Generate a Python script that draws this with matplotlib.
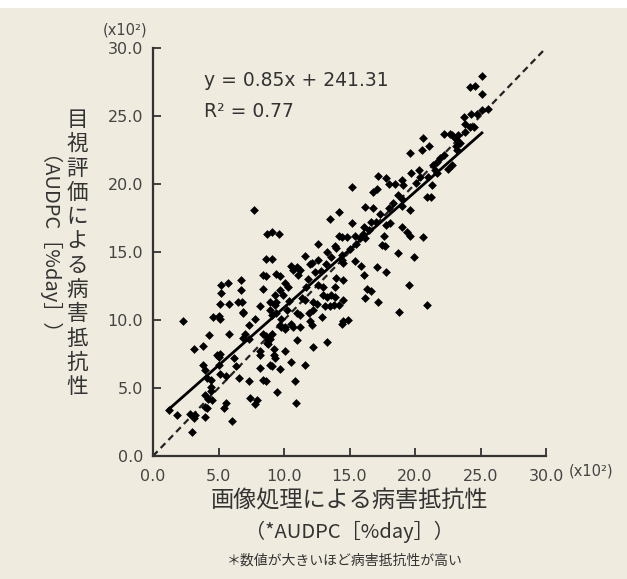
import matplotlib.pyplot as plt
import numpy as np

plt.rcParams['font.family'] = ['Noto Sans CJK JP', 'DejaVu Sans']

# image-processing resistance (x10^2) vs visual score (x10^2)
x_img = [1.2, 1.8, 2.3, 2.8, 3.1, 3.2, 3.0, 3.1, 3.8, 3.8, 4.0, 4.1, 4.3, 4.4, 4.4, 4.0,
         4.2, 4.5, 4.0, 4.1, 4.0, 4.4, 4.6, 5.0, 5.1, 5.1, 5.2, 5.2, 5.7, 5.8, 5.8, 4.9,
         5.0, 5.1, 5.0, 5.1, 5.6, 5.4, 5.6, 6.0, 6.3, 6.6, 6.5, 6.8, 6.7, 6.7, 6.9, 6.9,
         7.3, 6.9, 7.3, 7.3, 7.4, 7.8, 7.9, 7.8, 8.2, 8.9, 9.3, 8.2, 8.2, 8.2, 8.4, 8.6,
         8.9, 9.1, 9.3, 9.2, 9.2, 8.4, 8.6, 8.7, 8.8, 8.8, 8.9, 9.1, 9.5, 9.7, 10.1, 10.5,
         10.8, 10.9, 11.0, 10.1, 10.1, 9.7, 9.8, 10.5, 10.7, 11.2, 12.0, 12.1, 12.9, 12.2, 13.3, 14.4,
         11.6, 11.2, 11.9, 12.2, 9.4, 9.8, 10.2, 8.9, 9.1, 11.0, 13.1, 13.5, 13.8, 14.2, 14.5, 14.5,
         14.9, 8.4, 8.6, 8.4, 8.6, 9.1, 9.3, 9.4, 9.7, 9.9, 9.4, 9.7, 10.1, 10.3, 10.5, 11.0,
         11.2, 10.7, 11.1, 11.4, 11.6, 11.7, 12.2, 12.5, 12.6, 13.0, 12.4, 13.0, 13.3, 13.6, 13.9, 14.0,
         13.9, 11.6, 12.6, 13.9, 12.1, 12.6, 12.0, 13.6, 14.4, 14.5, 13.3, 14.0, 14.2, 14.4, 14.2, 13.5,
         7.7, 8.7, 9.1, 9.6, 15.2, 17.2, 17.8, 18.0, 18.5, 19.0, 19.1, 19.7, 20.3, 20.1, 16.8, 17.1,
         18.7, 19.0, 20.9, 21.2, 21.3, 16.2, 16.8, 19.6, 15.2, 16.1, 16.6, 14.8, 15.4, 15.8, 16.2, 17.6,
         17.5, 18.1, 19.0, 19.4, 19.6, 20.6, 18.7, 19.9, 14.4, 15.4, 15.9, 16.1, 17.1, 17.8, 14.5, 16.3,
         16.6, 16.2, 17.2, 19.5, 18.8, 20.9, 17.8, 17.7, 20.6, 21.1, 20.5, 19.6, 22.2, 22.7, 23.1, 21.9,
         21.7, 22.2, 22.5, 22.8, 21.4, 21.5, 21.7, 20.4, 21.0, 25.1, 24.2, 24.6, 25.1, 23.7, 24.3, 24.7,
         25.1, 25.6, 23.8, 24.2, 24.5, 22.8, 23.3, 23.1, 23.2, 23.4, 23.8, 15.0, 15.5, 16.0, 16.5, 17.0,
         17.3, 18.0, 18.3, 19.0, 11.8, 12.8, 13.2, 10.4, 6.2, 7.0]
y_vis = [3.4, 3.0, 9.9, 3.1, 2.8, 3.0, 1.8, 7.9, 8.1, 6.7, 6.3, 5.7, 8.9, 5.1, 4.8, 4.5,
         4.2, 4.1, 3.6, 3.5, 2.9, 5.6, 10.2, 10.3, 10.1, 11.2, 12.0, 12.6, 12.7, 11.2, 9.0, 7.4,
         7.3, 7.5, 6.7, 6.0, 5.9, 3.5, 3.9, 2.6, 6.6, 5.7, 11.3, 11.3, 12.9, 12.2, 10.6, 10.5,
         9.6, 8.7, 8.6, 5.5, 4.3, 3.8, 4.1, 10.1, 11.0, 11.3, 11.1, 7.7, 7.4, 6.5, 5.6, 5.5,
         6.7, 6.6, 7.2, 7.4, 7.9, 9.0, 8.8, 8.3, 8.5, 8.2, 8.6, 9.0, 4.7, 6.4, 7.7, 6.9,
         5.5, 3.9, 8.5, 9.3, 9.5, 9.6, 9.5, 9.7, 9.5, 9.5, 9.9, 9.6, 10.2, 8.0, 8.4, 9.7,
         6.7, 10.4, 10.5, 10.7, 10.5, 10.1, 10.7, 10.7, 10.4, 10.5, 11.0, 11.0, 11.1, 11.1, 11.5, 9.9,
         10.0, 13.3, 13.2, 12.3, 14.5, 14.5, 11.8, 11.3, 12.2, 11.8, 13.4, 13.2, 12.7, 12.4, 14.0, 13.9,
         13.7, 13.7, 13.3, 11.6, 11.5, 12.4, 11.3, 11.2, 12.6, 12.4, 13.5, 11.8, 11.7, 11.8, 11.7, 13.1,
         12.4, 14.7, 15.6, 15.4, 14.2, 14.4, 14.1, 14.6, 14.8, 14.2, 15.0, 15.3, 16.2, 16.1, 17.9, 17.4,
         18.1, 16.3, 16.5, 16.3, 19.8, 20.6, 20.4, 20.0, 20.0, 20.3, 19.9, 20.8, 21.0, 20.1, 19.4, 19.6,
         19.2, 18.9, 19.0, 19.0, 19.9, 18.3, 18.2, 18.1, 17.1, 16.8, 17.2, 16.1, 16.2, 16.0, 16.0, 16.2,
         15.5, 17.1, 16.8, 16.5, 16.2, 16.1, 14.9, 14.6, 14.4, 14.3, 14.0, 13.3, 13.9, 13.5, 12.9, 12.3,
         12.1, 11.6, 11.3, 12.6, 10.6, 11.1, 17.0, 15.4, 23.4, 22.8, 22.5, 22.3, 23.7, 23.7, 23.3, 21.9,
         21.6, 22.1, 21.1, 21.4, 21.4, 21.0, 20.8, 20.5, 20.5, 27.9, 27.1, 27.2, 26.6, 24.9, 25.1, 25.1,
         25.4, 25.5, 24.4, 24.2, 24.2, 23.6, 23.6, 22.8, 22.5, 23.0, 23.8, 15.2, 15.6, 16.3, 16.6, 17.2,
         17.8, 18.2, 18.6, 18.4, 13.0, 13.6, 14.1, 11.4, 7.2, 9.0]

slope = 0.85
intercept = 2.4131
fit_x = [1.2, 25.1]
ticks = [0, 5, 10, 15, 20, 25, 30]
tick_labels = ['0.0', '5.0', '10.0', '15.0', '20.0', '25.0', '30.0']

bg = '#f0ebdf'
ink = '#333333'
latin = ['DejaVu Sans']

fig = plt.figure(figsize=(6.27, 5.79), dpi=100, facecolor=bg)
# thin white strip along the top edge
fig.patches.append(plt.Rectangle((0, 1 - 8 / 579), 1, 8 / 579, transform=fig.transFigure,
                                 facecolor='white', edgecolor='none', zorder=0))
ax = fig.add_axes([0.244, 0.2124, 0.627, 0.705])
ax.set_facecolor(bg)

ax.plot([0, 30], [0, 30], ls=(0, (3, 2)), color='#222222', lw=1.6, zorder=2)
fx = np.array(fit_x)
ax.plot(fx, slope * fx + intercept, color='black', lw=2.0, zorder=3)
ax.scatter(x_img, y_vis, marker='D', s=20, color='black', linewidths=0, zorder=4)

ax.set_xlim(0, 30)
ax.set_ylim(0, 30)
ax.set_xticks(ticks)
ax.set_xticklabels(tick_labels, family=latin)
ax.set_yticks(ticks)
ax.set_yticklabels(tick_labels, family=latin)
for s in ['top', 'right']:
    ax.spines[s].set_visible(False)
for s in ['left', 'bottom']:
    ax.spines[s].set_linewidth(1.6)
    ax.spines[s].set_color(ink)
ax.tick_params(direction='in', length=6, width=1.3, color=ink, labelcolor='#444444',
               labelsize=11.5)
ax.tick_params(axis='x', pad=9)
ax.tick_params(axis='y', pad=7)

ax.text(0.13, 0.92, 'y = 0.85x + 241.31', transform=ax.transAxes, fontsize=13.5,
        color=ink, va='center', family=latin)
ax.text(0.13, 0.843, 'R² = 0.77', transform=ax.transAxes, fontsize=13.5,
        color=ink, va='center', family=latin)

fig.text(125 / 627, 1 - 30 / 579, '(x10²)', fontsize=10.5, color='#444444',
         ha='center', va='center', family=latin)
fig.text(591 / 627, 1 - 471 / 579, '(x10²)', fontsize=10.5, color='#444444',
         ha='center', va='center', family=latin)

fig.text(349 / 627, 1 - 501 / 579, '画像処理による病害抵抗性', fontsize=16.7, color=ink,
         ha='center', va='center')
fig.text(349 / 627, 1 - 532 / 579, '（*AUDPC［%day］）', fontsize=14.5, color=ink,
         ha='center', va='center')
fig.text(345 / 627, 1 - 561 / 579, '＊数値が大きいほど病害抵抗性が高い', fontsize=10,
         color=ink, ha='center', va='center')

ylab = '目視評価による病害抵抗性'
for i, ch in enumerate(ylab):
    fig.text(77 / 627, 1 - (120 + i * 24.3) / 579, ch, fontsize=15.5, color=ink,
             ha='center', va='center')
fig.text(37 / 627, 1 - 256 / 579, '（AUDPC［%day］）', fontsize=14.5, color=ink,
         ha='center', va='center', rotation=-90)

fig.savefig('out.png', dpi=100, facecolor=bg)
